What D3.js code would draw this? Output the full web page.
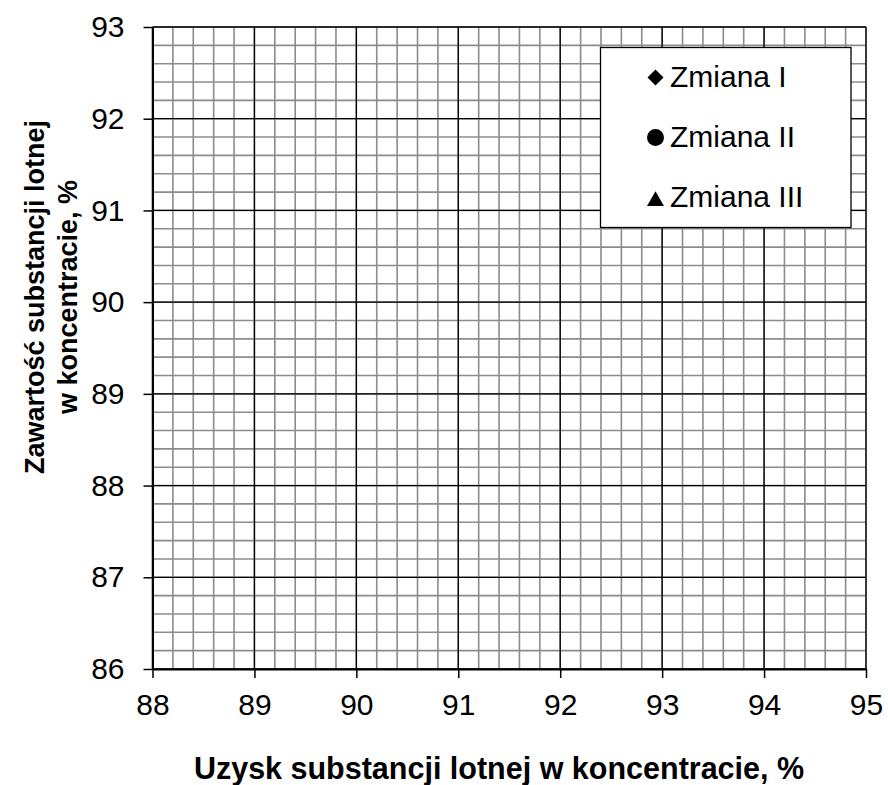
<!DOCTYPE html>
<html>
<head>
<meta charset="utf-8">
<script src="https://cdn.jsdelivr.net/npm/d3@7"></script>
<style>
  html, body { margin: 0; padding: 0; background: #fff; }
  svg { display: block; font-family: "Liberation Sans", Arial, sans-serif; }
</style>
</head>
<body>
<svg id="chart" width="888" height="785"></svg>
<script>
// ---- data ----
const xTicks = [88, 89, 90, 91, 92, 93, 94, 95];
const yTicks = [86, 87, 88, 89, 90, 91, 92, 93];
const seriesNames = ["Zmiana I", "Zmiana II", "Zmiana III"];
const seriesSymbols = ["diamond", "circle", "triangle"];
// No data points are visible in the reference chart
const zmianaI = [];
const zmianaII = [];
const zmianaIII = [];
const xTitle = "Uzysk substancji lotnej w koncentracie, %";
const yTitleLines = ["Zawartość substancji lotnej", "w koncentracie, %"];

const series = seriesNames.map((n, i) => ({ name: n, symbol: seriesSymbols[i], values: [zmianaI, zmianaII, zmianaIII][i] }));

// ---- layout ----
const svg = d3.select("#chart");
const L = 152.5, R = 866, T = 27, B = 669;
const x = d3.scaleLinear().domain([88, 95]).range([L, R]);
const y = d3.scaleLinear().domain([86, 93]).range([B, T]);

const minorX = d3.range(88, 95.0001, 0.2).map(v => +v.toFixed(1));
const minorY = d3.range(86, 93.0001, 0.2).map(v => +v.toFixed(1));

const g = svg.append("g");
g.selectAll(".mx").data(minorX).join("line")
  .attr("x1", d => x(d)).attr("x2", d => x(d)).attr("y1", T).attr("y2", B)
  .attr("stroke", "#8c8c8c").attr("stroke-width", 1.6);
g.selectAll(".my").data(minorY).join("line")
  .attr("y1", d => y(d)).attr("y2", d => y(d)).attr("x1", L).attr("x2", R)
  .attr("stroke", "#8c8c8c").attr("stroke-width", 1.6);
g.selectAll(".Mx").data(xTicks).join("line")
  .attr("x1", d => x(d)).attr("x2", d => x(d)).attr("y1", T).attr("y2", B)
  .attr("stroke", "#000").attr("stroke-width", 1.3);
g.selectAll(".My").data(yTicks).join("line")
  .attr("y1", d => y(d)).attr("y2", d => y(d)).attr("x1", L).attr("x2", R)
  .attr("stroke", "#000").attr("stroke-width", 1.3);

const FS = 30;
const xAxis = d3.axisBottom(x).tickValues(xTicks).tickSize(9).tickSizeOuter(0).tickPadding(16).tickFormat(d3.format("d"));
const yAxis = d3.axisLeft(y).tickValues(yTicks).tickSize(9).tickSizeOuter(0).tickPadding(19).tickFormat(d3.format("d"));
const gx = svg.append("g").attr("transform", `translate(0,${B})`).call(xAxis);
const gy = svg.append("g").attr("transform", `translate(${L},0)`).call(yAxis);
[gx, gy].forEach(a => {
  a.attr("font-size", null).attr("font-family", null);
  a.select(".domain").attr("stroke", "#000").attr("stroke-width", 2);
  a.selectAll(".tick line").attr("stroke", "#000").attr("stroke-width", 1.5);
  a.selectAll(".tick text").attr("fill", "#000").style("font-size", FS + "px");
});

// custom symbols
const symDiamond = { draw(ctx, size) { const r = Math.sqrt(size / 2); ctx.moveTo(0, -r); ctx.lineTo(r, 0); ctx.lineTo(0, r); ctx.lineTo(-r, 0); ctx.closePath(); } };
const sym = { diamond: symDiamond, circle: d3.symbolCircle, triangle: d3.symbolTriangle };
const symSize = { diamond: 128, circle: 227, triangle: 125 };

series.forEach(s => {
  svg.append("g").selectAll("path").data(s.values).join("path")
    .attr("transform", d => `translate(${x(d[0])},${y(d[1])})`)
    .attr("d", d3.symbol().type(sym[s.symbol]).size(symSize[s.symbol])).attr("fill", "#000");
});

// legend
const lg = svg.append("g");
lg.append("rect").attr("x", 600.5).attr("y", 47.5).attr("width", 250.5).attr("height", 180)
  .attr("fill", "#fff").attr("stroke", "#000").attr("stroke-width", 1.3);
const baseY = [86.7, 147.3, 206.7];
const markY = [77.5, 137.5, 201];
series.forEach((s, i) => {
  lg.append("path").attr("transform", `translate(655.5,${markY[i]})`)
    .attr("d", d3.symbol().type(sym[s.symbol]).size(symSize[s.symbol])).attr("fill", "#000");
  lg.append("text").attr("x", 670).attr("y", baseY[i])
    .style("font-size", FS + "px").attr("fill", "#000").text(s.name);
});

// titles
svg.append("text").attr("x", 499).attr("y", 779).attr("text-anchor", "middle")
  .style("font-size", "30.5px").style("font-weight", "bold").text(xTitle);
const yt = svg.append("text").attr("transform", "translate(0,297) rotate(-90)")
  .attr("text-anchor", "middle").style("font-size", "27px").style("font-weight", "bold");
yt.append("tspan").attr("x", 0).attr("y", 44).text(yTitleLines[0]);
yt.append("tspan").attr("x", 0).attr("y", 77).text(yTitleLines[1]);
</script>
</body>
</html>
